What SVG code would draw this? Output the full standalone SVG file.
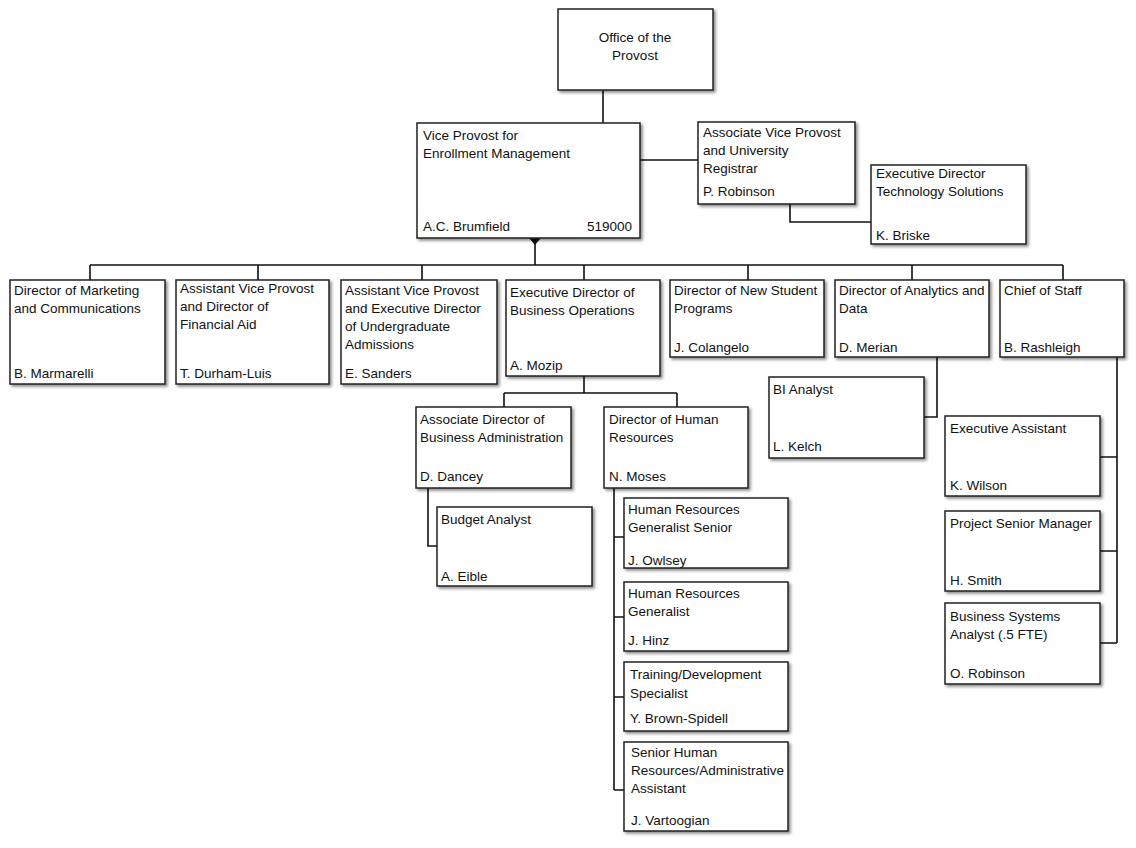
<svg xmlns="http://www.w3.org/2000/svg" width="1136" height="848" viewBox="0 0 1136 848">
<defs>
<filter id="sh" x="-10%" y="-10%" width="130%" height="130%"><feDropShadow dx="2" dy="2" stdDeviation="1.5" flood-color="#000" flood-opacity="0.45"/></filter>
</defs>
<style>
.b{fill:#fff;stroke:#222;stroke-width:1.5;filter:url(#sh)}
text{font-family:"Liberation Sans",Arial,sans-serif;font-size:13.5px;fill:#111}
.c{fill:none;stroke:#111;stroke-width:1.6}
</style>
<rect width="1136" height="848" fill="#fff"/>
<g id="connectors" class="c">
<path d="M603 90V123M640 160H698M790 204V222H871M535 238V265M90 265H1063"/>
<path d="M90 265V280M258 265V280M422 265V280M584 265V280M748 265V280M912 265V280M1063 265V280"/>
<path d="M584 376V393M504 393H677M504 393V407M677 393V407"/>
<path d="M428 488V546H437M614 488V790M614 537H624M614 617H624M614 697H624M614 790H624"/>
<path d="M937 357V417H924M1117 357V643M1100 457H1117M1100 551H1117M1100 643H1117"/>
<path d="M529 238H541L535 245Z" fill="#111" stroke="none"/>
</g>
<g id="provost"><rect class="b" x="558" y="9" width="155" height="81"/><text x="635" y="42" text-anchor="middle">Office of the</text><text x="635" y="60" text-anchor="middle">Provost</text></g>
<g id="vp"><rect class="b" x="417" y="123" width="223" height="115"/><text x="423" y="140">Vice Provost for</text><text x="423" y="158">Enrollment Management</text><text x="423" y="231">A.C. Brumfield</text><text x="632" y="231" text-anchor="end">519000</text></g>
<g id="avp"><rect class="b" x="698" y="122" width="157" height="82"/><text x="703" y="137">Associate Vice Provost</text><text x="703" y="155">and University</text><text x="703" y="173">Registrar</text><text x="703" y="196">P. Robinson</text></g>
<g id="tech"><rect class="b" x="871" y="165" width="155" height="79"/><text x="876" y="178">Executive Director</text><text x="876" y="196">Technology Solutions</text><text x="876" y="240">K. Briske</text></g>
<g id="marketing"><rect class="b" x="10" y="280" width="155" height="104"/><text x="14" y="295">Director of Marketing</text><text x="14" y="313">and Communications</text><text x="14" y="378">B. Marmarelli</text></g>
<g id="finaid"><rect class="b" x="176" y="280" width="153" height="104"/><text x="180" y="293">Assistant Vice Provost</text><text x="180" y="311">and Director of</text><text x="180" y="329">Financial Aid</text><text x="180" y="378">T. Durham-Luis</text></g>
<g id="admissions"><rect class="b" x="341" y="280" width="156" height="104"/><text x="345" y="295">Assistant Vice Provost</text><text x="345" y="313">and Executive Director</text><text x="345" y="331">of Undergraduate</text><text x="345" y="349">Admissions</text><text x="345" y="378">E. Sanders</text></g>
<g id="busops"><rect class="b" x="506" y="280" width="154" height="96"/><text x="510" y="297">Executive Director of</text><text x="510" y="315">Business Operations</text><text x="510" y="370">A. Mozip</text></g>
<g id="newstudent"><rect class="b" x="670" y="280" width="154" height="77"/><text x="674" y="295">Director of New Student</text><text x="674" y="313">Programs</text><text x="674" y="352">J. Colangelo</text></g>
<g id="analytics"><rect class="b" x="835" y="280" width="154" height="77"/><text x="839" y="295">Director of Analytics and</text><text x="839" y="313">Data</text><text x="839" y="352">D. Merian</text></g>
<g id="chief"><rect class="b" x="1000" y="280" width="124" height="77"/><text x="1004" y="295">Chief of Staff</text><text x="1004" y="352">B. Rashleigh</text></g>
<g id="busadmin"><rect class="b" x="416" y="407" width="155" height="81"/><text x="420" y="424">Associate Director of</text><text x="420" y="442">Business Administration</text><text x="420" y="481">D. Dancey</text></g>
<g id="hr"><rect class="b" x="604" y="407" width="144" height="81"/><text x="609" y="424">Director of Human</text><text x="609" y="442">Resources</text><text x="609" y="481">N. Moses</text></g>
<g id="budget"><rect class="b" x="437" y="507" width="155" height="79"/><text x="441" y="524">Budget Analyst</text><text x="441" y="581">A. Eible</text></g>
<g id="hrsenior"><rect class="b" x="624" y="498" width="164" height="70"/><text x="628" y="514">Human Resources</text><text x="628" y="532">Generalist Senior</text><text x="628" y="565">J. Owlsey</text></g>
<g id="hrgen"><rect class="b" x="624" y="582" width="164" height="69"/><text x="628" y="598">Human Resources</text><text x="628" y="616">Generalist</text><text x="628" y="645">J. Hinz</text></g>
<g id="training"><rect class="b" x="624" y="662" width="164" height="69"/><text x="630" y="679">Training/Development</text><text x="630" y="698">Specialist</text><text x="630" y="723">Y. Brown-Spidell</text></g>
<g id="hradmin"><rect class="b" x="624" y="742" width="164" height="89"/><text x="631" y="757">Senior Human</text><text x="631" y="775">Resources/Administrative</text><text x="631" y="793">Assistant</text><text x="631" y="825">J. Vartoogian</text></g>
<g id="bi"><rect class="b" x="769" y="377" width="155" height="81"/><text x="773" y="394">BI Analyst</text><text x="773" y="451">L. Kelch</text></g>
<g id="execasst"><rect class="b" x="945" y="416" width="155" height="80"/><text x="950" y="433">Executive Assistant</text><text x="950" y="490">K. Wilson</text></g>
<g id="projmgr"><rect class="b" x="945" y="511" width="155" height="80"/><text x="950" y="528">Project Senior Manager</text><text x="950" y="585">H. Smith</text></g>
<g id="bsa"><rect class="b" x="945" y="603" width="155" height="81"/><text x="950" y="621">Business Systems</text><text x="950" y="639">Analyst (.5 FTE)</text><text x="950" y="678">O. Robinson</text></g>
</svg>
